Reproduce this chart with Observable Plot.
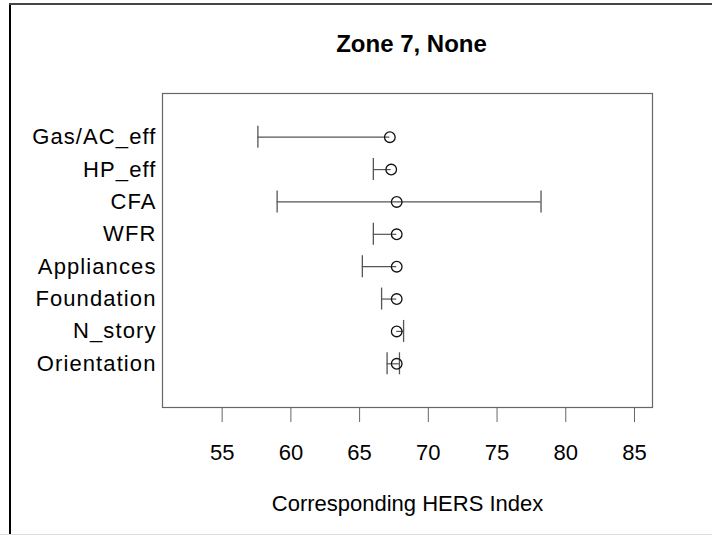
<!DOCTYPE html>
<html>
<head>
<meta charset="utf-8">
<script src="https://cdn.jsdelivr.net/npm/d3@7"></script>
<script src="https://cdn.jsdelivr.net/npm/@observablehq/plot@0.6"></script>
<style>
  html, body { margin: 0; padding: 0; background: #fff; }
  #wrap { position: relative; width: 712px; height: 535px; overflow: hidden; font-family: "Liberation Sans", Arial, sans-serif; }
  #wrap svg { position: absolute; left: 0; top: 0; }
  .bl { position: absolute; left: 9px; top: 3px; width: 2px; height: 532px; background: #000; }
  .bt { position: absolute; left: 9px; top: 3px; width: 703px; height: 2px; background: #444; }
  .bb { position: absolute; left: 0; top: 534px; width: 712px; height: 1px; background: #ddd; }
  .yax text { letter-spacing: 1.1px; }
</style>
</head>
<body>
<div id="wrap"></div>
<script>
const title = "Zone 7, None";
const xLabel = "Corresponding HERS Index";
const categories = ["Gas/AC_eff", "HP_eff", "CFA", "WFR", "Appliances", "Foundation", "N_story", "Orientation"];
const baseValues = [67.2, 67.3, 67.7, 67.7, 67.7, 67.7, 67.7, 67.7];
const lowValues  = [57.6, 66.0, 59.0, 66.0, 65.2, 66.6, 67.7, 67.0];
const highValues = [67.2, 67.3, 78.2, 67.7, 67.7, 67.7, 68.2, 67.9];
const xTicks = [55, 60, 65, 70, 75, 80, 85];

const rows = categories.map((c, i) => ({c, base: baseValues[i], low: lowValues[i], high: highValues[i]}));

const chart = Plot.plot({
  width: 712,
  height: 535,
  marginLeft: 162,
  marginRight: 60,
  marginTop: 93,
  marginBottom: 128,
  style: {fontFamily: '"Liberation Sans", Arial, sans-serif', color: "#000", background: "transparent"},
  x: {domain: [50.66, 86.31]},
  y: {type: "band", domain: categories, paddingInner: 0.32, paddingOuter: 1.01, round: false},
  marks: [
    Plot.frame({stroke: "#666", strokeWidth: 1.2}),
    Plot.ruleY(rows, {y: "c", x1: "low", x2: "high", stroke: "#555", strokeWidth: 1.2}),
    Plot.tickX(rows.filter(d => d.low < d.base), {x: "low", y: "c", stroke: "#555", strokeWidth: 1.3}),
    Plot.tickX(rows.filter(d => d.high > d.base), {x: "high", y: "c", stroke: "#555", strokeWidth: 1.3}),
    Plot.dot(rows, {x: "base", y: "c", r: 5.3, stroke: "#111", strokeWidth: 1.3, fill: "none"}),
    Plot.axisX({ticks: xTicks, tickSize: 15, tickPadding: 22, fontSize: 22, stroke: "#666", label: null, tickFormat: d => String(d)}),
    Plot.axisY({tickSize: 0, tickPadding: 6, fontSize: 22, label: null, className: "yax"}),
    Plot.text([title], {frameAnchor: "top", dy: -59, dx: 4, fontSize: 24, fontWeight: "bold", fill: "#000"}),
    Plot.text([xLabel], {frameAnchor: "bottom", dy: 103.7, fontSize: 22, fill: "#000"})
  ]
});

const wrap = document.getElementById("wrap");
wrap.appendChild(chart);
for (const cls of ["bl", "bt", "bb"]) {
  const d = document.createElement("div");
  d.className = cls;
  wrap.appendChild(d);
}
</script>
</body>
</html>
